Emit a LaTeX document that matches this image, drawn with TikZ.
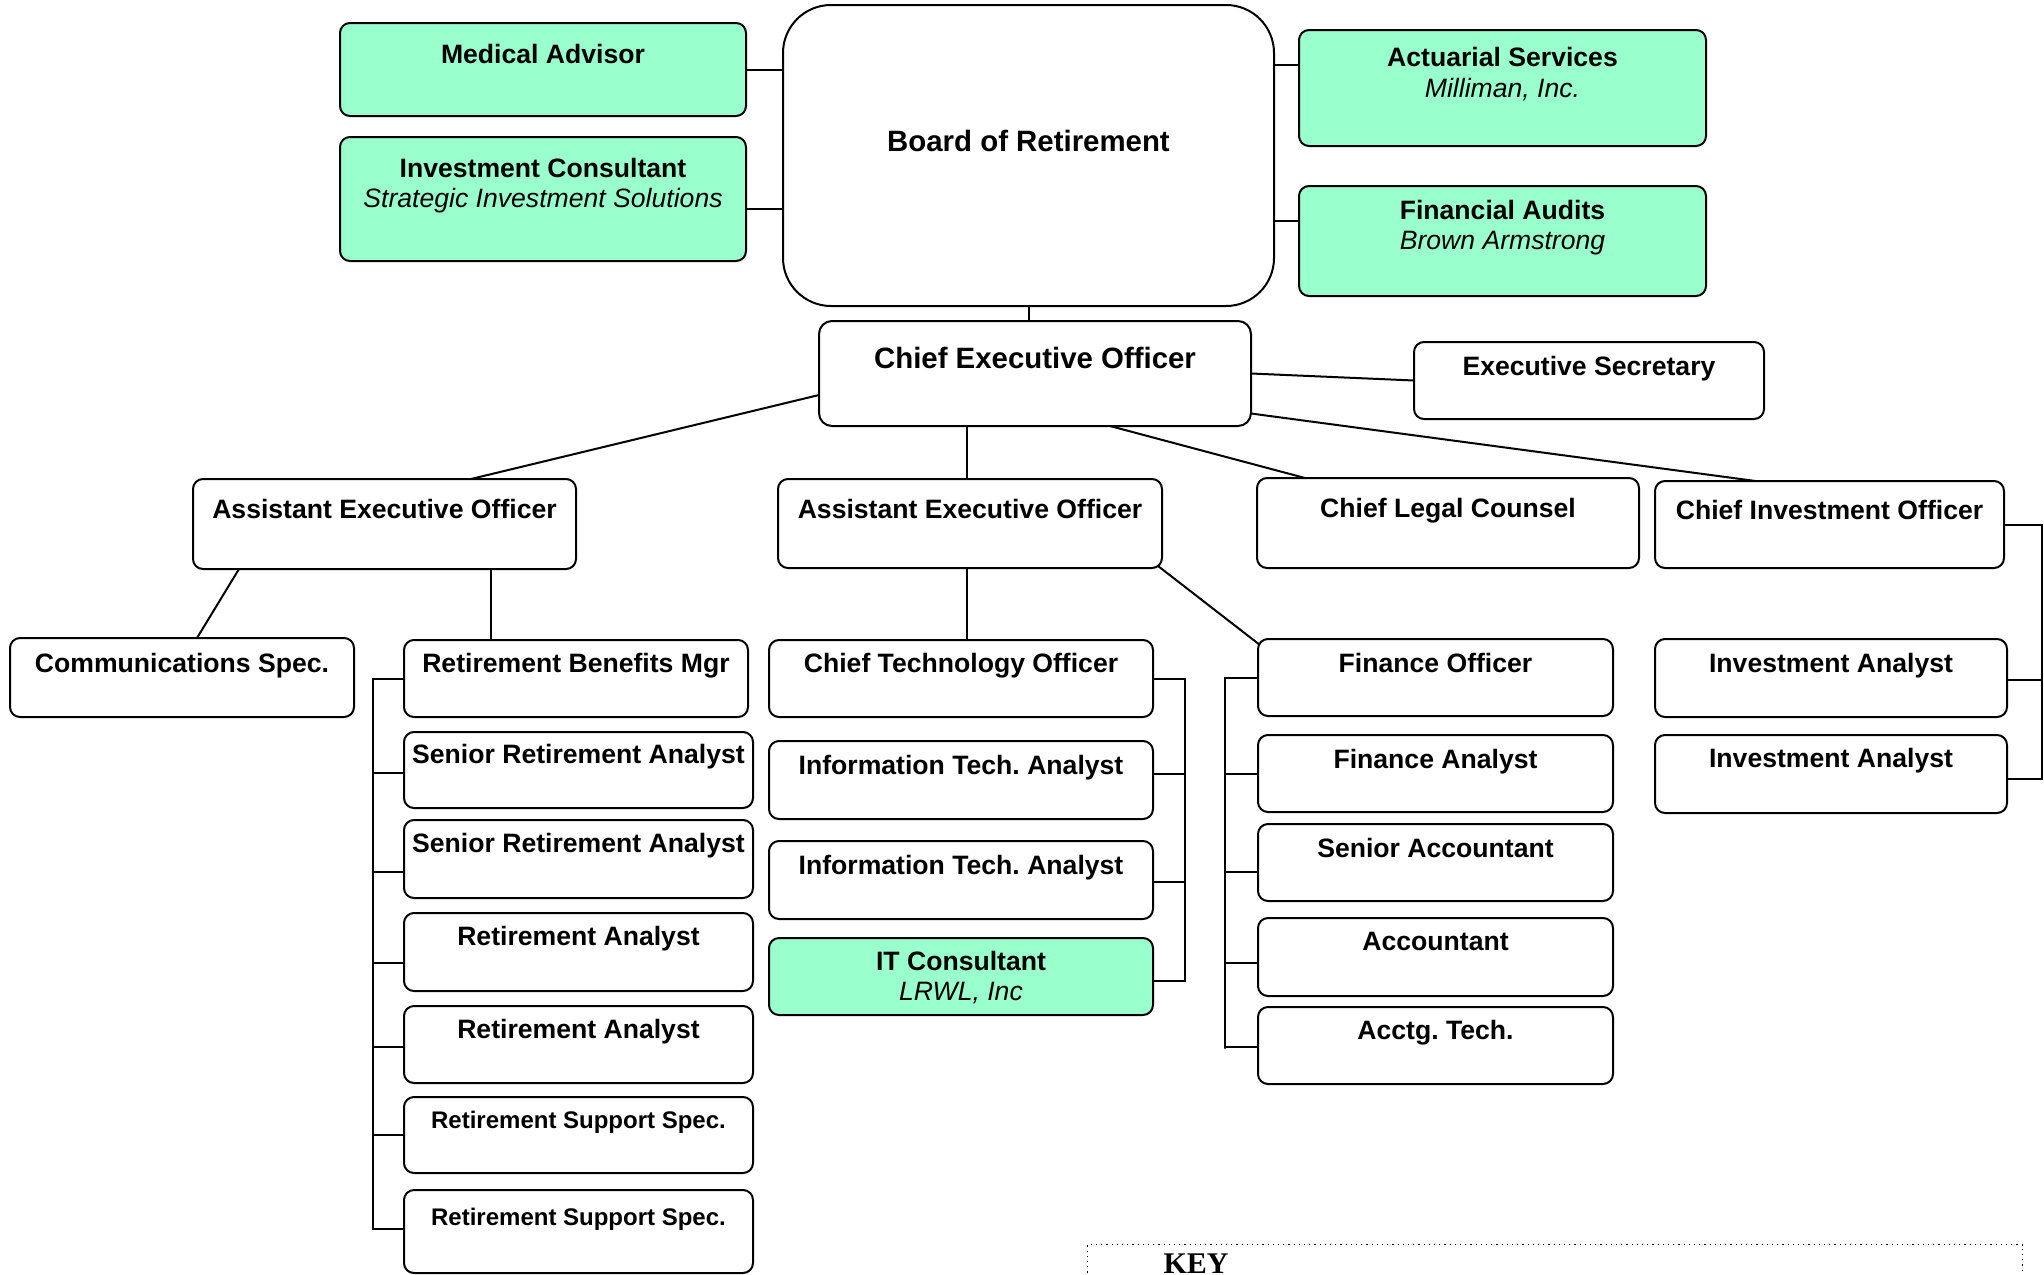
\documentclass[tikz,border=0pt]{standalone}
\usepackage{fontspec}
\setmainfont{Liberation Sans}
\newfontfamily\keyfont{Liberation Serif}
\usetikzlibrary{calc,backgrounds}
\definecolor{mint}{RGB}{153,255,204}
\newcommand\obox[6][]{\node[box,#1,minimum width={(#5-#3)*0.5pt},minimum height={(#6-#4)*0.5pt}] (#2) at ({(#3+#5)/2},{(#4+#6)/2}) {};}
\frenchspacing
\begin{document}
\begin{tikzpicture}[x=0.5pt,y=-0.5pt,
  box/.style={draw,line width=1pt,rounded corners=5pt,inner sep=0pt,outer sep=0pt,fill=white},
  grn/.style={fill=mint},
  ttl/.style={anchor=base,inner sep=0pt,font=\bfseries\fontsize{13.3}{15}\selectfont},
  sml/.style={anchor=base,inner sep=0pt,font=\bfseries\fontsize{12}{14}\selectfont},
  big/.style={anchor=base,inner sep=0pt,font=\bfseries\fontsize{14.7}{17}\selectfont},
  sub/.style={anchor=base,inner sep=0pt,font=\itshape\fontsize{13.3}{15}\selectfont},
  link/.style={line width=1pt}]
\useasboundingbox (0,0) rectangle (2044,1274);
\clip (0,0) rectangle (2044,1274);

% ---- top row
\obox[grn]{med}{340}{23}{746}{116}
\node[ttl] (med-t) at (med.north |- 0,63) {Medical Advisor};
\obox[grn]{inv}{340}{137}{746}{261}
\node[ttl] (inv-t) at (inv.north |- 0,177) {Investment Consultant};
\node[sub] (inv-s) at (inv.north |- 0,207) {Strategic Investment Solutions};
\obox[rounded corners=24pt]{board}{783}{5}{1274}{306}
\node[big] (board-t) at (board.north |- 0,151) {Board of Retirement};
\obox[grn]{act}{1299}{30}{1706}{146}
\node[ttl] (act-t) at (act.north |- 0,66) {Actuarial Services};
\node[sub] (act-s) at (act.north |- 0,97) {Milliman, Inc.};
\obox[grn]{fin}{1299}{186}{1706}{296}
\node[ttl] (fin-t) at (fin.north |- 0,219) {Financial Audits};
\node[sub] (fin-s) at (fin.north |- 0,249) {Brown Armstrong};

% ---- CEO row
\obox[rounded corners=6.5pt]{ceo}{819}{321}{1251}{426}
\node[big] (ceo-t) at (ceo.north |- 0,368) {Chief Executive Officer};
\obox{sec}{1414}{342}{1764}{419}
\node[ttl] (sec-t) at (sec.north |- 0,375) {Executive Secretary};

% ---- second level
\obox{aeo1}{193}{479}{576}{569}
\node[ttl] (aeo1-t) at (aeo1.north |- 0,518) {Assistant Executive Officer};
\obox{aeo2}{778}{479}{1162}{568}
\node[ttl] (aeo2-t) at (aeo2.north |- 0,518) {Assistant Executive Officer};
\obox{clc}{1257}{478}{1639}{568}
\node[ttl] (clc-t) at (clc.north |- 0,517) {Chief Legal Counsel};
\obox{cio}{1655}{481}{2004}{568}
\node[ttl] (cio-t) at (cio.north |- 0,519) {Chief Investment Officer};

% ---- third level
\obox{comm}{10}{638}{354}{717}
\node[ttl] (comm-t) at (comm.north |- 0,672) {Communications Spec.};
\obox{rbm}{404}{640}{748}{717}
\node[ttl] (rbm-t) at (rbm.north |- 0,672) {Retirement Benefits Mgr};
\obox{sra1}{404}{732}{753}{808}
\node[ttl] (sra1-t) at (sra1.north |- 0,763) {Senior Retirement Analyst};
\obox{sra2}{404}{820}{753}{898}
\node[ttl] (sra2-t) at (sra2.north |- 0,852) {Senior Retirement Analyst};
\obox{ra1}{404}{913}{753}{991}
\node[ttl] (ra1-t) at (ra1.north |- 0,945) {Retirement Analyst};
\obox{ra2}{404}{1006}{753}{1083}
\node[ttl] (ra2-t) at (ra2.north |- 0,1038) {Retirement Analyst};
\obox{rss1}{404}{1097}{753}{1173}
\node[sml] (rss1-t) at (rss1.north |- 0,1128) {Retirement Support Spec.};
\obox{rss2}{404}{1190}{753}{1273}
\node[sml] (rss2-t) at (rss2.north |- 0,1225) {Retirement Support Spec.};

\obox{cto}{769}{640}{1153}{717}
\node[ttl] (cto-t) at (cto.north |- 0,672) {Chief Technology Officer};
\obox{ita1}{769}{741}{1153}{819}
\node[ttl] (ita1-t) at (ita1.north |- 0,774) {Information Tech. Analyst};
\obox{ita2}{769}{841}{1153}{919}
\node[ttl] (ita2-t) at (ita2.north |- 0,874) {Information Tech. Analyst};
\obox[grn]{itc}{769}{938}{1153}{1015}
\node[ttl] (itc-t) at (itc.north |- 0,970) {IT Consultant};
\node[sub] (itc-s) at (itc.north |- 0,1000) {LRWL, Inc};

\obox{fo}{1258}{639}{1613}{716}
\node[ttl] (fo-t) at (fo.north |- 0,672) {Finance Officer};
\obox{fa}{1258}{735}{1613}{812}
\node[ttl] (fa-t) at (fa.north |- 0,768) {Finance Analyst};
\obox{sa}{1258}{824}{1613}{901}
\node[ttl] (sa-t) at (sa.north |- 0,857) {Senior Accountant};
\obox{acc}{1258}{918}{1613}{996}
\node[ttl] (acc-t) at (acc.north |- 0,950) {Accountant};
\obox{atech}{1258}{1007}{1613}{1084}
\node[ttl] (atech-t) at (atech.north |- 0,1039) {Acctg. Tech.};

\obox{ia1}{1655}{639}{2007}{717}
\node[ttl] (ia1-t) at (ia1.north |- 0,672) {Investment Analyst};
\obox{ia2}{1655}{735}{2007}{813}
\node[ttl] (ia2-t) at (ia2.north |- 0,767) {Investment Analyst};

% ---- key
\node[draw,dotted,line width=0.6pt,inner sep=0pt,anchor=north west,minimum width={935*0.5pt},minimum height={100*0.5pt}] (keybox) at (1087,1244) {};
\node[anchor=base,inner sep=0pt,font=\keyfont\bfseries\fontsize{15}{17}\selectfont] (key-t) at (1196,1273) {KEY};

% ---- connectors
\coordinate (rbus) at (373,0);
\coordinate (cbus) at (1185,0);
\coordinate (fbus) at (1225,0);
\coordinate (ibus) at (2042,0);
\begin{pgfonlayer}{background}
\draw[link] (med.east) -- (med.east -| board.west);
\draw[link] ([yshift=-5pt]inv.east) -- ([yshift=-5pt]inv.east -| board.west);
\draw[link] ([yshift=11.5pt]act.west) -- ([yshift=11.5pt]act.west -| board.east);
\draw[link] ([yshift=10pt]fin.west) -- ([yshift=10pt]fin.west -| board.east);
\draw[link] (board.south) -- (board.south |- ceo.north);
\draw[link] (ceo.east) -- (sec.west);
\draw[link] ([yshift=-20pt]ceo.east) -- ([xshift=-37pt]cio.north);
\draw[link] ([xshift=37.5pt]ceo.south) -- ([xshift=-71.5pt]clc.north);
\draw[link] ([yshift=-10.75pt]ceo.west) -- ([xshift=43.25pt]aeo1.north);
\draw[link] ([xshift=-34pt]ceo.south) -- ([xshift=-34pt]ceo.south |- aeo2.north);
\draw[link,line width=1.4pt] ([xshift=-1.5pt]aeo2.south) -- ([xshift=-1.5pt]aeo2.south |- cto.north);
\draw[link] ([shift={(-2pt,1pt)}]aeo2.south east) -- ([shift={(1pt,-3pt)}]fo.north west);
\draw[link] ([xshift=-72.75pt]aeo1.south) -- ([xshift=7.5pt]comm.north);
\draw[link] ([xshift=-42.5pt]rbm.north) -- ([xshift=-42.5pt]rbm.north |- aeo1.south);
% retirement bracket
\draw[link] (rbm.west) -- (rbm.west -| rbus) -- ([yshift=1.5pt]rss2.west -| rbus) -- ([yshift=1.5pt]rss2.west);
\foreach \n/\s in {sra1/-1.5pt, sra2/-6.5pt, ra1/-5.5pt, ra2/-1.25pt, rss1/0pt}
  \draw[link] ([yshift=\s]\n.west) -- ([yshift=\s]\n.west -| rbus);
% technology bracket
\draw[link] (cto.east) -- (cto.east -| cbus) -- ([yshift=-2.25pt]itc.east -| cbus) -- ([yshift=-2.25pt]itc.east);
\foreach \n/\s in {ita1/3pt, ita2/-1pt}
  \draw[link] ([yshift=\s]\n.east) -- ([yshift=\s]\n.east -| cbus);
% finance bracket
\draw[link] (fo.west) -- (fo.west -| fbus) -- ([yshift=-1.5pt]atech.west -| fbus) -- ([yshift=-0.75pt]atech.west -| fbus) -- ([yshift=-0.75pt]atech.west);
\foreach \n/\s in {fa/0pt, sa/-4.75pt, acc/-3pt}
  \draw[link] ([yshift=\s]\n.west) -- ([yshift=\s]\n.west -| fbus);
% investment bracket
\draw[link] (cio.east) -- (cio.east -| ibus) -- ([yshift=-2.5pt]ia2.east -| ibus) -- ([yshift=-2.5pt]ia2.east);
\draw[link] ([yshift=-1pt]ia1.east) -- ([yshift=-1pt]ia1.east -| ibus);
\end{pgfonlayer}
\end{tikzpicture}
\end{document}
